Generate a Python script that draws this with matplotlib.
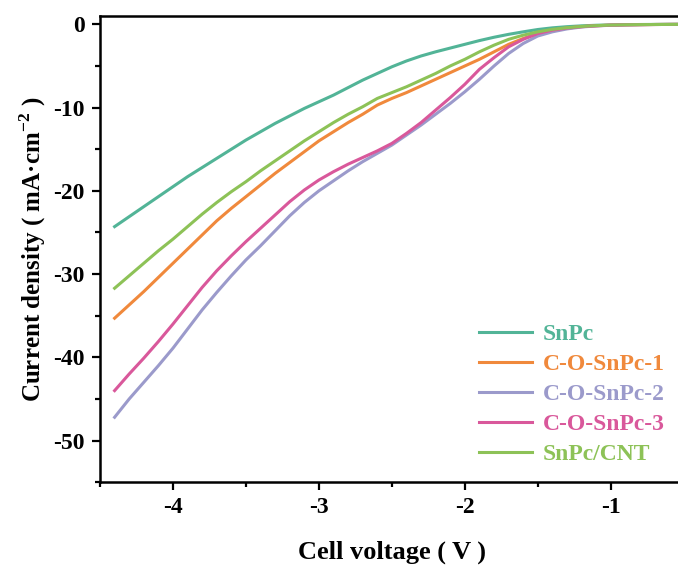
import matplotlib
matplotlib.use('Agg')
import matplotlib.pyplot as plt
from matplotlib.ticker import MultipleLocator

# cell voltage (V) and current density (mA cm-2)
voltage = [-4.4, -4.3, -4.2, -4.1, -4.0, -3.9, -3.8, -3.7, -3.6, -3.5,
           -3.4, -3.3, -3.2, -3.1, -3.0, -2.9, -2.8, -2.7, -2.6, -2.5,
           -2.4, -2.3, -2.2, -2.1, -2.0, -1.9, -1.8, -1.7, -1.6, -1.5,
           -1.4, -1.3, -1.2, -1.1, -1.0, -0.9, -0.8, -0.7, -0.6, -0.5]
snpc = [-24.3, -23.1, -21.9, -20.7, -19.5, -18.3, -17.2, -16.1, -15.0, -13.9,
        -12.9, -11.9, -11.0, -10.1, -9.3, -8.5, -7.6, -6.7, -5.9, -5.1,
        -4.4, -3.8, -3.3, -2.85, -2.4, -1.95, -1.55, -1.2, -0.9, -0.62,
        -0.42, -0.28, -0.18, -0.11, -0.07, -0.04, -0.02, -0.01, 0.0, 0.0]
co_snpc_1 = [-35.3, -33.7, -32.1, -30.4, -28.7, -27.0, -25.3, -23.6, -22.1, -20.7,
             -19.3, -17.9, -16.6, -15.3, -14.0, -12.9, -11.8, -10.8, -9.7, -8.9,
             -8.2, -7.4, -6.6, -5.8, -5.0, -4.2, -3.3, -2.4, -1.7, -1.1,
             -0.7, -0.45, -0.28, -0.17, -0.1, -0.06, -0.04, -0.02, -0.01, 0.0]
co_snpc_2 = [-47.2, -45.0, -43.0, -41.0, -38.9, -36.6, -34.3, -32.2, -30.2, -28.3,
             -26.6, -24.8, -23.0, -21.4, -20.0, -18.8, -17.6, -16.5, -15.5, -14.5,
             -13.3, -12.1, -10.8, -9.5, -8.1, -6.6, -5.0, -3.5, -2.3, -1.4,
             -0.9, -0.55, -0.32, -0.19, -0.11, -0.06, -0.04, -0.02, -0.01, 0.0]
co_snpc_3 = [-44.0, -42.0, -40.1, -38.1, -36.0, -33.8, -31.6, -29.6, -27.8, -26.1,
             -24.5, -22.9, -21.3, -19.9, -18.7, -17.7, -16.8, -16.0, -15.2, -14.3,
             -13.1, -11.8, -10.3, -8.8, -7.2, -5.4, -4.0, -2.7, -1.8, -1.1,
             -0.7, -0.45, -0.28, -0.17, -0.1, -0.06, -0.04, -0.02, -0.01, 0.0]
snpc_cnt = [-31.7, -30.2, -28.7, -27.2, -25.8, -24.3, -22.8, -21.4, -20.1, -18.9,
            -17.6, -16.4, -15.2, -14.0, -12.9, -11.8, -10.8, -9.9, -8.9, -8.2,
            -7.5, -6.7, -5.9, -5.0, -4.2, -3.3, -2.5, -1.8, -1.3, -0.9,
            -0.6, -0.4, -0.25, -0.15, -0.09, -0.05, -0.03, -0.02, -0.01, 0.0]

labels = ['SnPc', 'C-O-SnPc-1', 'C-O-SnPc-2', 'C-O-SnPc-3', 'SnPc/CNT']
colors = ['#52b497', '#f0893c', '#9b9acb', '#d9589b', '#8dc257']

plt.rcParams['font.family'] = 'Liberation Serif'
plt.rcParams['font.weight'] = 'bold'
plt.rcParams['axes.unicode_minus'] = False
plt.rcParams['mathtext.fontset'] = 'custom'
plt.rcParams['mathtext.rm'] = 'Liberation Serif:bold'
plt.rcParams['mathtext.bf'] = 'Liberation Serif:bold'

fig = plt.figure(figsize=(6.78, 5.72), dpi=100)
ax = fig.add_axes([0.1475, 0.157, 0.861, 0.815])

for y, lab, c in zip([snpc, co_snpc_1, co_snpc_2, co_snpc_3, snpc_cnt], labels, colors):
    ax.plot(voltage, y, color=c, lw=2.2, label=lab)

ax.set_xlim(-4.5, -0.5)
ax.set_ylim(-55, 1)
ax.xaxis.set_major_locator(MultipleLocator(1))
ax.xaxis.set_minor_locator(MultipleLocator(0.5))
ax.yaxis.set_major_locator(MultipleLocator(10))
ax.yaxis.set_minor_locator(MultipleLocator(5))
ax.tick_params(which='major', direction='out', length=6, width=1.6, labelsize=17, pad=5)
ax.tick_params(which='minor', direction='out', length=3.5, width=1.6)
for s in ax.spines.values():
    s.set_linewidth(1.8)

ax.set_xlabel('Cell voltage ( V )', fontsize=19, fontweight='bold', labelpad=16)
ax.set_ylabel('Current density ( mA·cm$^{-2}$ )', fontsize=18, fontweight='bold', labelpad=4)

leg = ax.legend(loc='lower right', bbox_to_anchor=(1.004, -0.009), frameon=False,
                handlelength=2.25, handletextpad=0.45, labelspacing=0.36,
                prop={'family': 'Liberation Serif', 'weight': 'bold', 'size': 17})
for t, c in zip(leg.get_texts(), colors):
    t.set_color(c)

fig.savefig('out.png', dpi=100)
